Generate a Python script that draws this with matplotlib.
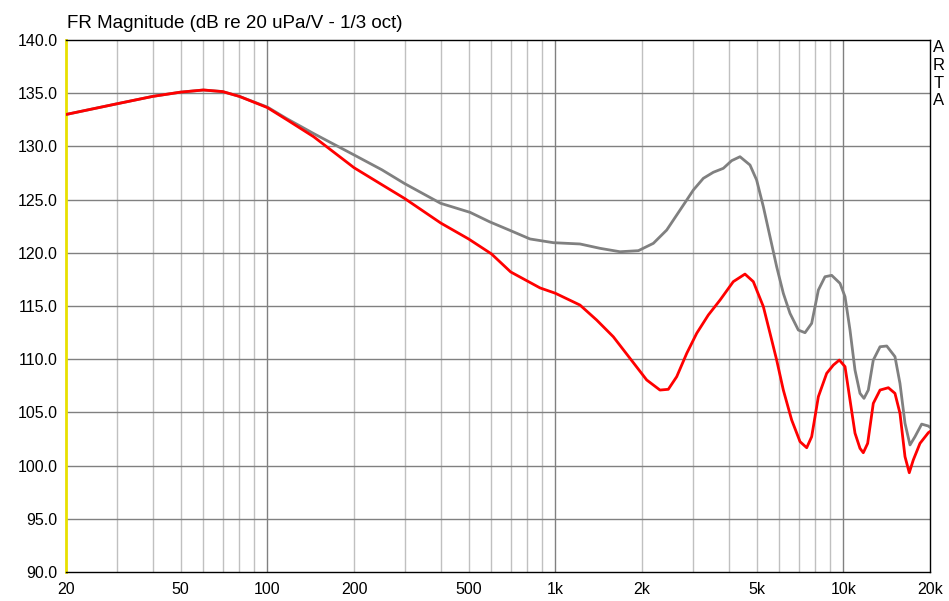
import matplotlib
matplotlib.use("Agg")
import matplotlib.pyplot as plt
from matplotlib.ticker import FixedLocator, NullFormatter

plt.rcParams['font.family'] = ['Liberation Sans', 'DejaVu Sans']

red_f = [20, 30, 40, 50, 60, 70, 80, 100, 117, 145, 200, 250, 300, 400, 500, 600, 700,
         885, 1000, 1218, 1392, 1590, 1817, 2076, 2309, 2468, 2640, 2860, 3098, 3398,
         3733, 4150, 4556, 4870, 5277, 5566, 5870, 6191, 6617, 7076, 7463, 7766, 8192,
         8755, 9236, 9686, 10138, 10550, 10980, 11428, 11733, 12150, 12710, 13414,
         14336, 15114, 15730, 16376, 16946, 17500, 18460, 19734, 20000]
red_db = [133.0, 134.0, 134.7, 135.1, 135.3, 135.15, 134.7, 133.65, 132.5, 130.9, 128.0,
          126.4, 125.1, 122.8, 121.3, 119.9, 118.2, 116.7, 116.2, 115.09, 113.68, 112.11,
          110.08, 108.05, 107.1, 107.17, 108.36, 110.55, 112.44, 114.15, 115.56, 117.29,
          118.0, 117.29, 114.94, 112.44, 109.92, 107.1, 104.29, 102.25, 101.68, 102.72,
          106.48, 108.67, 109.45, 109.92, 109.3, 106.17, 103.05, 101.62, 101.21, 102.09,
          105.85, 107.1, 107.32, 106.79, 104.92, 100.84, 99.33, 100.53, 102.09, 103.09,
          103.2]

gray_f = [20, 30, 40, 50, 60, 70, 80, 100, 117, 145, 200, 250, 300, 400, 506, 593, 697,
          817, 985, 1218, 1430, 1677, 1943, 2190, 2437, 2640, 2860, 3015, 3266, 3538,
          3832, 4096, 4378, 4743, 5001, 5277, 5566, 5870, 6191, 6530, 6980, 7362, 7766,
          8192, 8638, 9114, 9740, 10138, 10550, 10980, 11428, 11798, 12212, 12710, 13414,
          14152, 15114, 15730, 16376, 17044, 17740, 18712, 19734, 20000]
gray_db = [133.0, 134.0, 134.7, 135.1, 135.3, 135.15, 134.7, 133.7, 132.6, 131.2, 129.2,
           127.8, 126.5, 124.65, 123.8, 122.9, 122.1, 121.3, 120.95, 120.83, 120.42,
           120.1, 120.2, 120.89, 122.14, 123.55, 124.96, 125.9, 127.0, 127.57, 127.94,
           128.66, 129.03, 128.25, 126.84, 124.33, 121.51, 118.69, 116.19, 114.31, 112.74,
           112.49, 113.37, 116.5, 117.75, 117.88, 117.13, 115.88, 112.74, 108.98, 106.79,
           106.32, 107.1, 109.92, 111.17, 111.24, 110.24, 107.73, 103.98, 101.94, 102.72,
           103.9, 103.72, 103.6]

x_ticks = [20, 50, 100, 200, 500, 1000, 2000, 5000, 10000, 20000]
x_labels = ['20', '50', '100', '200', '500', '1k', '2k', '5k', '10k', '20k']
y_ticks = [90, 95, 100, 105, 110, 115, 120, 125, 130, 135, 140]
y_labels = ['%.1f' % v for v in y_ticks]
title = 'FR Magnitude (dB re 20 uPa/V - 1/3 oct)'

fig = plt.figure(figsize=(9.49, 6.01), dpi=100)
ax = fig.add_axes([66/949, (601-572)/601, (930-66)/949, (572-40)/601])
ax.set_xscale('log')
ax.set_xlim(20, 20000)
ax.set_ylim(90, 140)

# grid
minor = [v * d for d in (10, 100, 1000) for v in range(2, 10)]
for f in minor:
    if 20 < f < 20000:
        ax.axvline(f, color='#c0c0c0', lw=1, zorder=1)
for f in (100, 1000, 10000):
    ax.axvline(f, color='#808080', lw=1, zorder=1.5)
for y in y_ticks[1:-1]:
    ax.axhline(y, color='#808080', lw=1, zorder=1.5)

ax.plot(gray_f, gray_db, color='#808080', lw=2, zorder=3)
ax.plot(red_f, red_db, color='#ff0000', lw=2, zorder=4)

ax.xaxis.set_major_locator(FixedLocator(x_ticks))
ax.set_xticklabels(x_labels)
ax.xaxis.set_minor_formatter(NullFormatter())
ax.xaxis.set_minor_locator(FixedLocator([]))
ax.set_yticks(y_ticks)
ax.set_yticklabels(y_labels)
ax.tick_params(axis='both', length=0, labelsize=11.5, colors='black')
ax.tick_params(axis='x', pad=7)
ax.tick_params(axis='y', pad=6)

for s in ax.spines.values():
    s.set_color('black')
    s.set_linewidth(1)
ax.spines['left'].set_color('#e8e000')
ax.spines['left'].set_linewidth(2)

fig.text(67/949, 1 - 24/601, title, fontsize=13.5, ha='left', va='center')
for i, ch in enumerate('ARTA'):
    fig.text(939/949, 1 - (48 + i*17.5)/601, ch, fontsize=12, ha='center', va='center')

fig.savefig('out.png', dpi=100)
